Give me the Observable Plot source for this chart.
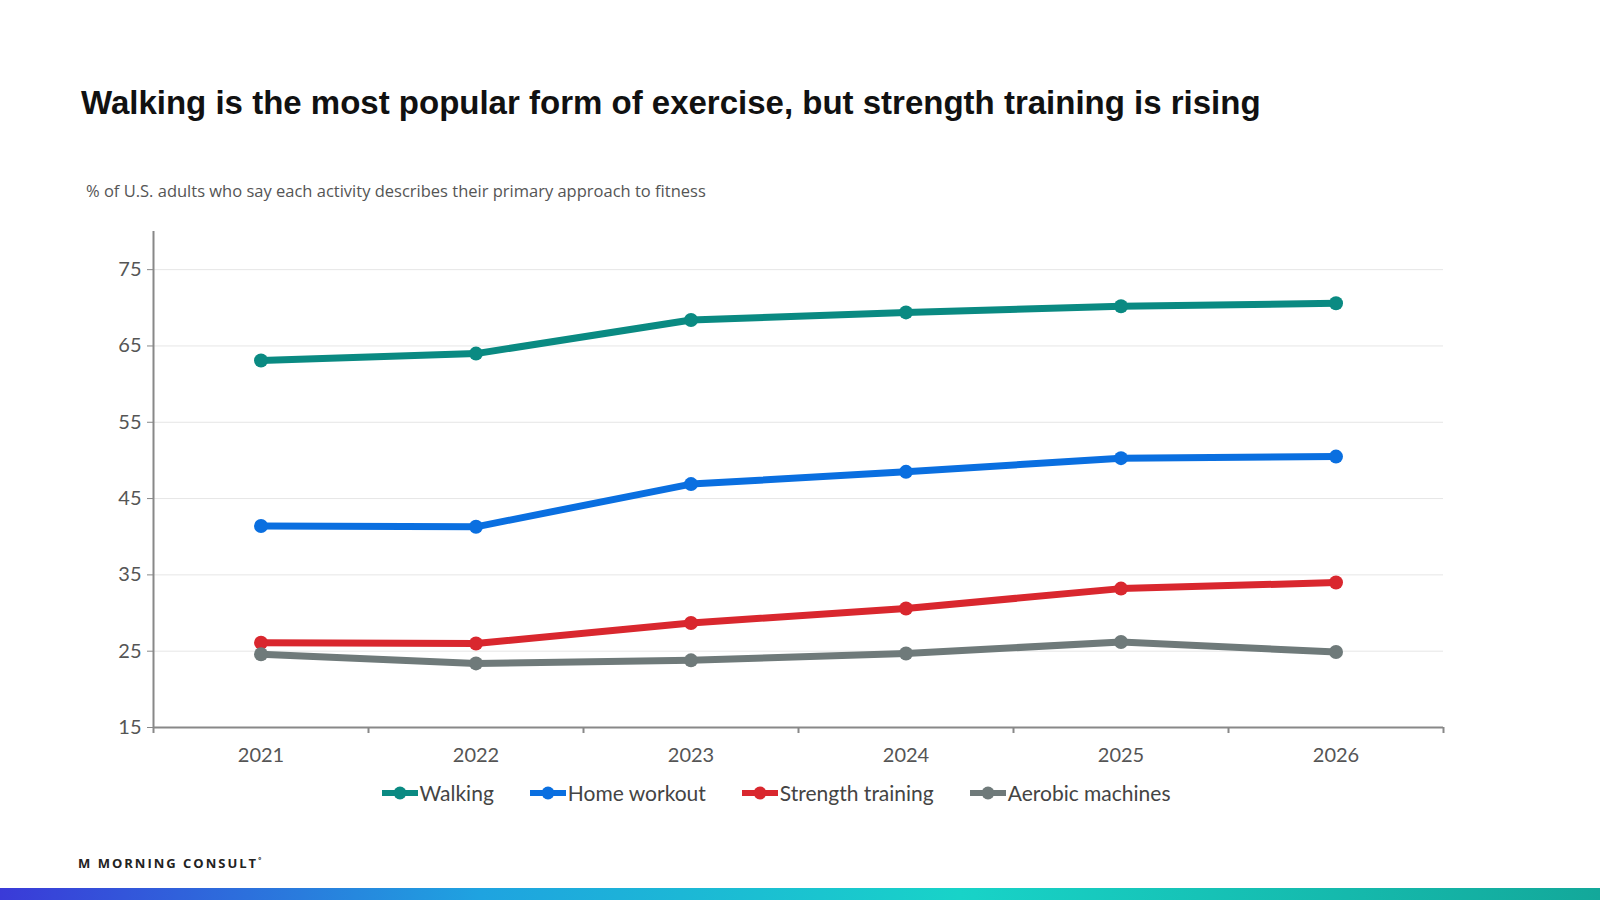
<!DOCTYPE html>
<html><head><meta charset="utf-8">
<script src="https://cdn.jsdelivr.net/npm/d3@7"></script>
<script src="https://cdn.jsdelivr.net/npm/@observablehq/plot@0.6"></script>
<style>
body{margin:0;width:1600px;height:900px;background:#fff;position:relative;overflow:hidden;font-family:Lato,"Open Sans",sans-serif;}
#title{position:absolute;left:81px;top:84px;font:bold 33px "Liberation Sans",Arial,sans-serif;color:#111;}
#sub{position:absolute;left:86px;top:179px;font-size:16.5px;color:#555;font-family:"Open Sans",sans-serif;}
#chart{position:absolute;left:0;top:220px;}
#legend{position:absolute;top:780px;left:0;width:1600px;display:flex;justify-content:center;gap:36px;font-size:21px;color:#444;margin-left:-24px;}
#legend span{display:flex;align-items:center;gap:2px;}
#legend svg{width:36px;height:14px;}
#logo{position:absolute;left:78px;top:854px;font:bold 13px "Open Sans",sans-serif;letter-spacing:2px;color:#222;}
#bar{position:absolute;left:0;bottom:0;width:1600px;height:12px;background:linear-gradient(90deg,#3a3ad8,#1fa3e0 30%,#18d3c8 60%,#13a89a);}
</style></head><body>
<div id="title">Walking is the most popular form of exercise, but strength training is rising</div>
<div id="sub">% of U.S. adults who say each activity describes their primary approach to fitness</div>
<div id="chart"></div>
<div id="legend"></div>
<div id="logo">M&nbsp;MORNING CONSULT<sup style="font-size:7px">°</sup></div>
<div id="bar"></div>
<script>
const years=[2021,2022,2023,2024,2025,2026];
const seriesNames=["Walking","Home workout","Strength training","Aerobic machines"];
const colors=["#0a8a82","#0a6fe0","#d9272e","#6f7a7a"];
const walking=[63.1,64.0,68.4,69.4,70.2,70.6];
const homeWorkout=[41.4,41.3,46.9,48.5,50.3,50.5];
const strength=[26.1,26.0,28.7,30.6,33.2,34.0];
const aerobic=[24.6,23.4,23.8,24.7,26.2,24.9];
const yTicks=[15,25,35,45,55,65,75];
const vals=[walking,homeWorkout,strength,aerobic];
const data=[];
seriesNames.forEach((s,i)=>years.forEach((y,j)=>data.push({series:s,year:y,value:vals[i][j]})));
const bounds=d3.range(years[0]-0.5,years[years.length-1]+1,1);
const chart=Plot.plot({
  width:1600,height:552,marginLeft:153,marginRight:157,marginTop:11,marginBottom:45,
  style:{fontFamily:"Lato,'Open Sans',sans-serif",fontSize:"20px",color:"#555"},
  x:{domain:[years[0]-0.5,years[years.length-1]+0.5],axis:null},
  y:{domain:[15,80],axis:null},
  color:{domain:seriesNames,range:colors},
  marks:[
    Plot.gridY(yTicks.slice(1),{stroke:"#e6e6e6",strokeOpacity:1}),
    Plot.axisY(yTicks,{tickSize:6,stroke:"#888",tickPadding:6,fontSize:20,fill:"#555",label:null}),
    Plot.ruleX([years[0]-0.5],{stroke:"#888",strokeWidth:2}),
    Plot.ruleY([15],{stroke:"#888",strokeWidth:2}),
    Plot.axisX(bounds,{tickSize:6,stroke:"#888",strokeWidth:2,tickFormat:()=>"",label:null}),
    Plot.axisX(years,{tickSize:0,tickPadding:20,tickFormat:d=>String(d),fontSize:20,fill:"#555",label:null}),
    Plot.line(data,{x:"year",y:"value",z:"series",stroke:"series",strokeWidth:7}),
    Plot.dot(data,{x:"year",y:"value",fill:"series",r:7})
  ]
});
document.getElementById("chart").appendChild(chart);
const lg=document.getElementById("legend");
seriesNames.forEach((s,i)=>{
  const sp=document.createElement("span");
  sp.innerHTML=`<svg><line x1="0" y1="7" x2="36" y2="7" stroke="${colors[i]}" stroke-width="6"/><circle cx="18" cy="7" r="6.5" fill="${colors[i]}"/></svg>${s}`;
  lg.appendChild(sp);
});
</script>
</body></html>
